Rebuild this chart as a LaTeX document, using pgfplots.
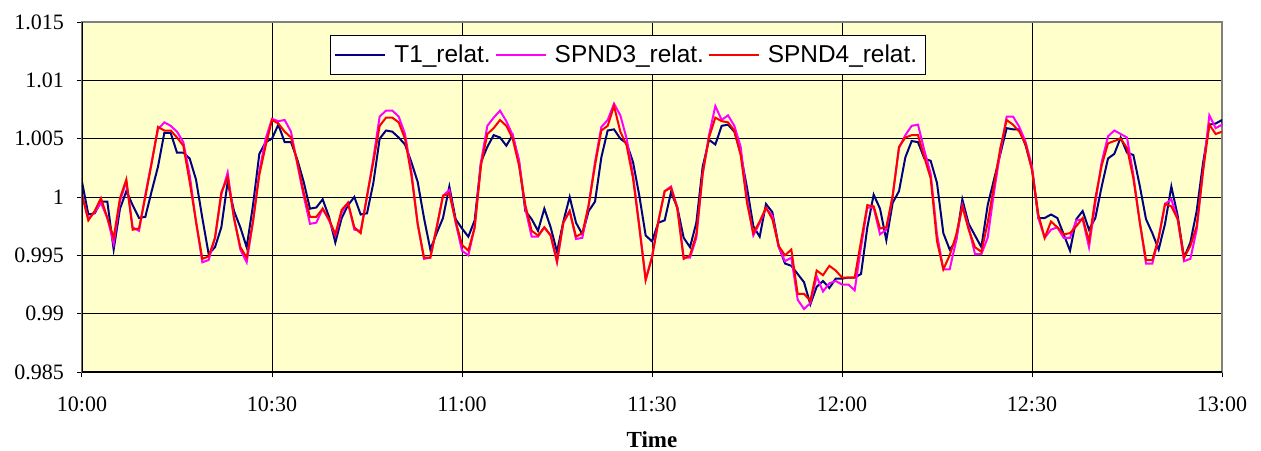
\documentclass[border=0pt]{standalone}
\usepackage{fontspec}
\setmainfont{Liberation Serif}
\newfontfamily\legfont{Liberation Sans}
\usepackage{pgfplots}
\usepackage{pgfplotstable}
\pgfplotsset{compat=1.18}
\definecolor{plotbg}{HTML}{FFFFCC}
\definecolor{tnavy}{HTML}{000080}
\definecolor{smag}{HTML}{FF00FF}
\definecolor{sred}{HTML}{FF0000}
\definecolor{frame}{HTML}{808080}

% minutes after 10:00, T1_relat., SPND3_relat., SPND4_relat.
\pgfplotstableread{
t T1 S3 S4
0 1.0013 1.0002 1.0002
1 0.9985 0.9981 0.9980
2 0.9986 0.9987 0.9988
3 0.9996 0.9995 0.9999
4 0.9996 0.9982 0.9982
5 0.9955 0.9960 0.9965
6 0.9990 0.9997 0.9999
7 1.0005 1.0013 1.0015
8 0.9993 0.9974 0.9972
9 0.9982 0.9971 0.9973
10 0.9983 1.0002 1.0000
11 1.0005 1.0030 1.0029
12 1.0026 1.0058 1.0060
13 1.0055 1.0064 1.0057
14 1.0055 1.0061 1.0057
15 1.0038 1.0056 1.0051
16 1.0038 1.0047 1.0044
17 1.0033 1.0019 1.0013
18 1.0015 0.9979 0.9979
19 0.9982 0.9944 0.9947
20 0.9951 0.9946 0.9949
21 0.9957 0.9965 0.9965
22 0.9974 1.0002 1.0004
23 1.0013 1.0021 1.0017
24 0.9988 0.9982 0.9982
25 0.9974 0.9955 0.9957
26 0.9957 0.9944 0.9948
27 0.9993 0.9979 0.9979
28 1.0037 1.0022 1.0019
29 1.0047 1.0050 1.0044
30 1.0050 1.0067 1.0066
31 1.0062 1.0065 1.0063
32 1.0047 1.0066 1.0056
33 1.0047 1.0056 1.0051
34 1.0032 1.0028 1.0030
35 1.0013 1.0001 1.0004
36 0.9990 0.9977 0.9983
37 0.9991 0.9978 0.9983
38 0.9998 0.9990 0.9990
39 0.9983 0.9980 0.9981
40 0.9961 0.9967 0.9968
41 0.9982 0.9987 0.9989
42 0.9993 0.9995 0.9995
43 1.0000 0.9972 0.9974
44 0.9985 0.9971 0.9969
45 0.9986 1.0000 1.0001
46 1.0012 1.0033 1.0030
47 1.0050 1.0069 1.0061
48 1.0057 1.0074 1.0068
49 1.0056 1.0074 1.0068
50 1.0051 1.0069 1.0064
51 1.0045 1.0054 1.0050
52 1.0030 1.0022 1.0019
53 1.0013 0.9977 0.9977
54 0.9982 0.9947 0.9948
55 0.9955 0.9948 0.9948
56 0.9969 0.9974 0.9974
57 0.9982 1.0001 1.0001
58 1.0009 1.0006 1.0003
59 0.9981 0.9978 0.9979
60 0.9973 0.9954 0.9959
61 0.9966 0.9950 0.9954
62 0.9980 0.9974 0.9974
63 1.0030 1.0030 1.0027
64 1.0043 1.0061 1.0054
65 1.0053 1.0068 1.0059
66 1.0051 1.0074 1.0066
67 1.0044 1.0065 1.0061
68 1.0053 1.0053 1.0050
69 1.0030 1.0032 1.0027
70 0.9988 0.9990 0.9993
71 0.9981 0.9966 0.9971
72 0.9971 0.9966 0.9967
73 0.9990 0.9974 0.9974
74 0.9974 0.9967 0.9967
75 0.9953 0.9944 0.9945
76 0.9979 0.9978 0.9978
77 1.0000 0.9988 0.9988
78 0.9978 0.9964 0.9966
79 0.9968 0.9965 0.9969
80 0.9988 0.9993 0.9993
81 0.9996 1.0030 1.0027
82 1.0034 1.0060 1.0057
83 1.0057 1.0066 1.0061
84 1.0058 1.0080 1.0078
85 1.0050 1.0070 1.0056
86 1.0046 1.0050 1.0044
87 1.0030 1.0019 1.0016
88 1.0001 0.9975 0.9974
89 0.9967 0.9929 0.9929
90 0.9962 0.9949 0.9948
91 0.9978 0.9979 0.9979
92 0.9980 1.0005 1.0005
93 1.0004 1.0009 1.0008
94 0.9991 0.9991 0.9990
95 0.9965 0.9948 0.9947
96 0.9957 0.9948 0.9950
97 0.9978 0.9965 0.9968
98 1.0026 1.0020 1.0020
99 1.0049 1.0053 1.0051
100 1.0045 1.0078 1.0068
101 1.0061 1.0066 1.0065
102 1.0062 1.0070 1.0064
103 1.0056 1.0061 1.0057
104 1.0037 1.0043 1.0036
105 1.0008 0.9998 0.9995
106 0.9975 0.9967 0.9969
107 0.9966 0.9978 0.9979
108 0.9994 0.9990 0.9991
109 0.9987 0.9984 0.9981
110 0.9958 0.9957 0.9958
111 0.9943 0.9945 0.9950
112 0.9941 0.9948 0.9955
113 0.9934 0.9912 0.9917
114 0.9927 0.9904 0.9917
115 0.9908 0.9909 0.9911
116 0.9923 0.9932 0.9937
117 0.9928 0.9919 0.9933
118 0.9922 0.9926 0.9941
119 0.9930 0.9928 0.9937
120 0.9930 0.9925 0.9931
121 0.9931 0.9925 0.9931
122 0.9931 0.9920 0.9931
123 0.9934 0.9957 0.9962
124 0.9974 0.9991 0.9993
125 1.0002 0.9991 0.9992
126 0.9990 0.9968 0.9973
127 0.9963 0.9972 0.9974
128 0.9995 1.0001 1.0001
129 1.0005 1.0042 1.0043
130 1.0034 1.0053 1.0051
131 1.0048 1.0061 1.0053
132 1.0047 1.0062 1.0053
133 1.0033 1.0040 1.0034
134 1.0031 1.0020 1.0016
135 1.0012 0.9968 0.9962
136 0.9969 0.9938 0.9938
137 0.9955 0.9938 0.9950
138 0.9962 0.9962 0.9967
139 0.9998 0.9993 0.9992
140 0.9977 0.9974 0.9972
141 0.9967 0.9951 0.9957
142 0.9957 0.9951 0.9953
143 0.9993 0.9965 0.9978
144 1.0015 1.0004 1.0010
145 1.0037 1.0039 1.0042
146 1.0059 1.0069 1.0066
147 1.0058 1.0069 1.0062
148 1.0058 1.0060 1.0056
149 1.0044 1.0047 1.0045
150 1.0024 1.0026 1.0023
151 0.9982 0.9982 0.9985
152 0.9982 0.9965 0.9965
153 0.9985 0.9972 0.9979
154 0.9982 0.9974 0.9974
155 0.9968 0.9965 0.9968
156 0.9954 0.9965 0.9969
157 0.9981 0.9980 0.9975
158 0.9988 0.9981 0.9982
159 0.9972 0.9957 0.9962
160 0.9982 0.9995 0.9999
161 1.0009 1.0030 1.0027
162 1.0033 1.0052 1.0046
163 1.0037 1.0057 1.0048
164 1.0051 1.0054 1.0050
165 1.0038 1.0051 1.0042
166 1.0036 1.0019 1.0016
167 1.0010 0.9979 0.9979
168 0.9981 0.9943 0.9946
169 0.9969 0.9943 0.9946
170 0.9955 0.9965 0.9965
171 0.9977 0.9994 0.9994
172 1.0009 0.9998 0.9992
173 0.9984 0.9981 0.9981
174 0.9948 0.9945 0.9948
175 0.9961 0.9947 0.9958
176 0.9988 0.9972 0.9975
177 1.0029 1.0022 1.0022
178 1.0062 1.0070 1.0062
179 1.0063 1.0059 1.0054
180 1.0066 1.0062 1.0056
181 1.0030 1.0055 1.0050
}\relat

\begin{document}
\begin{tikzpicture}
\path[use as bounding box] (-41pt,-39pt) rectangle (589.5pt,186pt);
\begin{axis}[
  scale only axis, width=570pt, height=175pt,
  at={(0,0)}, anchor=south west,
  xmin=0, xmax=180, ymin=0.985, ymax=1.015,
  xtick={0,30,...,180},
  xticklabels={10:00,10:30,11:00,11:30,12:00,12:30,13:00},
  ytick={0.985,0.99,0.995,1,1.005,1.01,1.015},
  yticklabels={0.985,0.99,0.995,1,1.005,1.01,1.015},
  axis background/.style={fill=plotbg},
  grid=major, grid style={black, line width=0.5pt},
  axis line style={frame, line width=0.8pt},
  tick align=outside, xtick pos=left, ytick pos=left,
  major tick length=2.5pt, tick style={black, line width=0.5pt},
  tick label style={font=\fontsize{11}{13}\selectfont},
  xticklabel style={yshift=-6.5pt},
  yticklabel style={xshift=-3pt},
  xlabel={\bfseries Time},
  xlabel style={font=\fontsize{11.5}{13}\selectfont, yshift=-3pt},
  legend columns=3,
  legend style={at={(0.2175,0.963)}, anchor=north west,
                draw=black, fill=white, line width=0.5pt,
                font=\legfont\fontsize{12.2}{14}\selectfont,
                inner xsep=2pt, inner ysep=2.5pt,
                /tikz/every even column/.append style={column sep=0pt},
                /tikz/every odd column/.append style={column sep=2pt}},
  legend image code/.code={\draw[#1, line width=1pt] (0pt,0pt) -- (25pt,0pt);},
  every axis plot/.append style={line width=1pt},
]
\addplot[tnavy] table[x=t, y=T1] {\relat};
\addlegendentry{T1\_relat.}
\addplot[smag] table[x=t, y=S3] {\relat};
\addlegendentry{SPND3\_relat.}
\addplot[sred] table[x=t, y=S4] {\relat};
\addlegendentry{SPND4\_relat.}
\draw[black, line width=0.8pt] (rel axis cs:0,1) -- (rel axis cs:0,0) -- (rel axis cs:1,0);
\end{axis}
\end{tikzpicture}
\end{document}
